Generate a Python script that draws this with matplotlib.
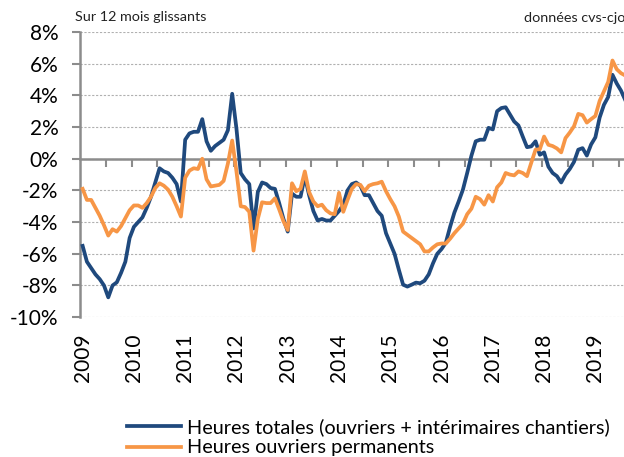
import matplotlib.pyplot as plt
import matplotlib.transforms as mtransforms
import numpy as np

plt.rcParams['font.family'] = ['Lato', 'DejaVu Sans']

# Données mensuelles, janvier 2009 -> 2019 (en %)
heures_totales = [
    -5.5, -6.5, -6.9, -7.3, -7.6, -8.0, -8.75, -8.0, -7.8, -7.2, -6.5, -5.0,
    -4.3, -4.0, -3.7, -3.1, -2.4, -1.5, -0.6, -0.8, -0.9, -1.2, -1.6, -2.7,
    1.2, 1.6, 1.7, 1.7, 2.5, 1.1, 0.5, 0.8, 1.0, 1.2, 1.8, 4.1,
    1.9, -0.9, -1.3, -1.6, -4.4, -2.1, -1.5, -1.6, -1.85, -1.9, -2.8, -3.8,
    -4.6, -2.2, -2.4, -2.4, -1.1, -2.3, -3.3, -3.9, -3.8, -3.9, -3.9, -3.6,
    -3.3, -2.9, -2.0, -1.6, -1.5, -1.7, -2.3, -2.3, -2.8, -3.3, -3.6, -4.7,
    -5.35, -6.0, -7.0, -7.95, -8.07, -7.95, -7.82, -7.86, -7.7, -7.3, -6.6, -6.0,
    -5.7, -5.3, -4.3, -3.4, -2.7, -1.95, -0.9, 0.2, 1.1, 1.2, 1.2, 1.95,
    1.85, 3.0, 3.2, 3.25, 2.8, 2.35, 2.1, 1.4, 0.73, 0.78, 1.1, 0.25,
    0.4, -0.5, -0.9, -1.1, -1.5, -1.0, -0.65, -0.2, 0.57, 0.67, 0.2, 0.9,
    1.35, 2.6, 3.4, 3.9, 5.3, 4.75, 4.3, 3.7,
]
heures_permanents = [
    -1.9, -2.6, -2.6, -3.1, -3.6, -4.2, -4.85, -4.45, -4.6, -4.25, -3.75, -3.25,
    -2.95, -2.95, -3.1, -2.8, -2.4, -1.85, -1.55, -1.7, -1.95, -2.4, -3.0, -3.65,
    -1.2, -0.75, -0.6, -0.65, 0.0, -1.3, -1.75, -1.7, -1.65, -1.4, -0.3, 1.15,
    -0.8, -3.0, -3.05, -3.35, -5.8, -3.8, -2.75, -2.8, -2.8, -2.5, -3.2, -3.95,
    -4.5, -1.55, -2.05, -1.9, -0.8, -2.1, -2.7, -3.0, -2.9, -3.25, -3.45, -3.5,
    -2.15, -3.35, -2.6, -1.9, -1.6, -1.65, -2.05, -1.7, -1.6, -1.55, -1.45, -2.05,
    -2.55, -3.0, -3.65, -4.6, -4.8, -5.0, -5.2, -5.4, -5.85, -5.85, -5.6, -5.4,
    -5.35, -5.35, -5.05, -4.7, -4.4, -4.1, -3.5, -3.15, -2.4, -2.55, -2.9, -2.3,
    -2.7, -1.8, -1.5, -0.9, -1.0, -1.05, -0.8, -0.9, -1.1, -0.25, 0.57, 0.6,
    1.4, 0.88, 0.8, 0.65, 0.4, 1.3, 1.65, 2.05, 2.83, 2.75, 2.28, 2.5,
    2.7, 3.65, 4.25, 4.85, 6.2, 5.65, 5.4, 5.25,
]
annees = ['2009', '2010', '2011', '2012', '2013', '2014',
          '2015', '2016', '2017', '2018', '2019']
labels = ['Heures totales (ouvriers + intérimaires chantiers)',
          'Heures ouvriers permanents']

bleu = '#1F497D'
orange = '#F79646'
gris = '#8C8C8C'

mois = np.arange(len(heures_totales))

fig = plt.figure(figsize=(6.24, 4.57), dpi=100)
ax = fig.add_axes([0.129, 0.306, 0.871, 0.624])

ax.plot(mois, heures_totales, color=bleu, lw=2.7, label=labels[0],
        solid_joinstyle='round', zorder=3)
ax.plot(mois, heures_permanents, color=orange, lw=2.7, label=labels[1],
        solid_joinstyle='round', zorder=3)

ax.set_xlim(-0.5, 126.7)
ax.set_ylim(-10, 8)

# axe Y
ax.set_yticks(np.arange(-10, 9, 2))
ax.set_yticklabels([f'{v}%' for v in range(-10, 9, 2)], fontsize=15)
ax.tick_params(axis='y', length=6, width=1.5, color=gris, pad=10)
ax.yaxis.grid(True, linestyle=(0, (2, 1.5)), color='#B0B0B0', lw=0.8)
ax.set_axisbelow(True)

# axe X qui croise à 0
for s in ['top', 'right']:
    ax.spines[s].set_visible(False)
ax.spines['left'].set_color(gris)
ax.spines['left'].set_linewidth(1.8)
ax.spines['bottom'].set_position(('data', 0))
ax.spines['bottom'].set_color(gris)
ax.spines['bottom'].set_linewidth(1.8)
ax.set_xticks(np.arange(5.5, 127, 6))
ax.set_xticklabels([])
ax.tick_params(axis='x', length=6, width=1.5, color=gris, direction='out')

# années en bas, verticales
trans = mtransforms.blended_transform_factory(ax.transData, ax.transAxes)
for k, an in enumerate(annees):
    ax.text(12 * k, -0.057, an, transform=trans, rotation=90,
            ha='center', va='top', fontsize=15)

fig.text(75 / 624, 1 - 17 / 457, 'Sur 12 mois glissants', fontsize=10.4,
         ha='left', va='center', color='#222222')
fig.text(524 / 624, 1 - 18 / 457, 'données cvs-cjo', fontsize=10.4,
         ha='left', va='center', color='#222222')

fig.legend(loc='upper left', bbox_to_anchor=(127 / 624, 1 - 418 / 457),
           frameon=False, fontsize=14.3, handlelength=2.7, handletextpad=0.3,
           labelspacing=0.18, borderpad=0, borderaxespad=0)

fig.savefig('out.png', dpi=100)
